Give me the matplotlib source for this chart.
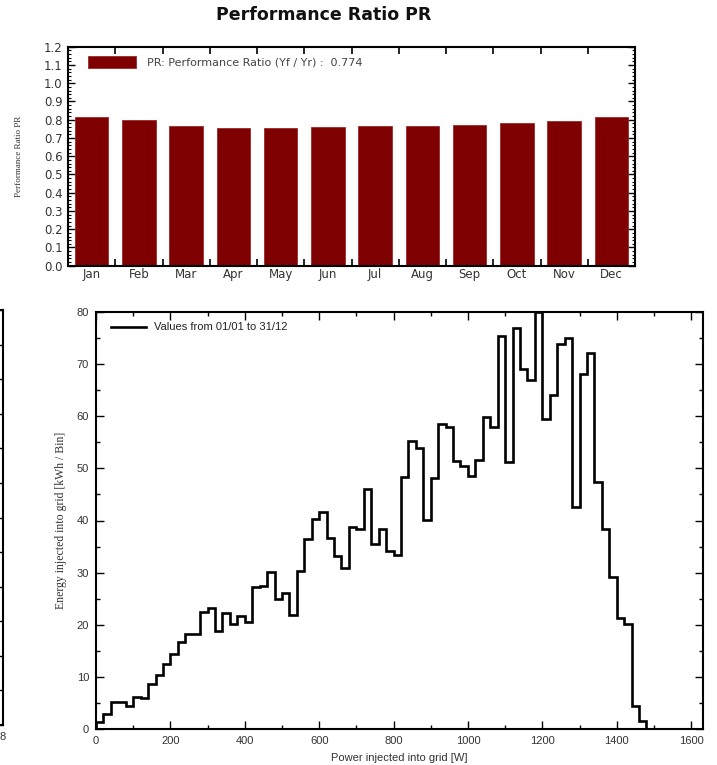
import numpy as np
import matplotlib
matplotlib.use("Agg")
import matplotlib.pyplot as plt
from matplotlib.ticker import MultipleLocator, FixedLocator

# ---------------- data ----------------
months = ["Jan", "Feb", "Mar", "Apr", "May", "Jun",
          "Jul", "Aug", "Sep", "Oct", "Nov", "Dec"]
pr_values = [0.816, 0.797, 0.767, 0.756, 0.755, 0.760,
             0.767, 0.765, 0.769, 0.780, 0.791, 0.813]
pr_label = "PR: Performance Ratio (Yf / Yr) :  0.774"

bin_width = 20
energy_per_bin = [1.4, 2.8, 5.2, 5.1, 4.4, 6.2, 6.0, 8.6, 10.4, 12.4,
                  14.4, 16.7, 18.3, 18.2, 22.4, 23.3, 18.8, 22.2, 20.1, 21.6,
                  20.6, 27.2, 27.5, 30.2, 25.0, 26.1, 21.8, 30.4, 36.4, 40.3,
                  41.6, 36.6, 33.2, 30.9, 38.7, 38.4, 46.1, 35.5, 38.4, 34.1,
                  33.3, 48.3, 55.3, 54.0, 40.1, 48.2, 58.6, 58.0, 51.4, 50.5,
                  48.6, 51.6, 59.9, 57.9, 75.3, 51.2, 77.0, 69.0, 67.0, 80.0,
                  59.5, 64.0, 73.8, 75.0, 42.6, 68.1, 72.1, 47.3, 38.4, 29.2,
                  21.2, 20.1, 4.5, 1.5]
hist_label = "Values from 01/01 to 31/12"

W, H = 717, 765
fig = plt.figure(figsize=(W / 100, H / 100), dpi=100)

def frac_box(x0, y0, x1, y1):
    return [x0 / W, 1 - y1 / H, (x1 - x0) / W, (y1 - y0) / H]

tick_col = "#333333"

# ---------------- top: Performance Ratio ----------------
ax1 = fig.add_axes(frac_box(68, 46.7, 635, 265.7))
x = np.arange(1, len(months) + 1)
ax1.bar(x, pr_values, width=0.71, color="#7f0000", edgecolor="#9a2a2a",
        linewidth=0.6, label=pr_label, zorder=2)
ax1.set_xlim(0.5, len(months) + 0.5)
ax1.set_ylim(0, 1.2)
ax1.yaxis.set_major_locator(MultipleLocator(0.1))
ax1.yaxis.set_minor_locator(MultipleLocator(0.02))
ax1.set_yticklabels([f"{v:.1f}" for v in ax1.get_yticks()])
ax1.set_xticks(x)
ax1.set_xticklabels(months)
ax1.xaxis.set_minor_locator(FixedLocator(np.arange(0.5, len(months) + 1, 1.0)))
ax1.tick_params(axis="x", which="major", length=0, pad=2,
                labelsize=8.5, labelcolor=tick_col)
ax1.tick_params(axis="x", which="minor", direction="in", length=5,
                width=1.2, top=True, bottom=True)
ax1.tick_params(axis="y", which="major", direction="in", length=5,
                width=1, left=True, right=True, labelsize=8.5,
                labelcolor=tick_col, pad=4)
ax1.tick_params(axis="y", which="minor", direction="in", length=2.5,
                width=0.8, left=True, right=True)
for t in ax1.get_xticklabels() + ax1.get_yticklabels():
    t.set_family("DejaVu Sans")
for s in ax1.spines.values():
    s.set_linewidth(1.5)
ax1.set_ylabel("Performance Ratio PR", family="Liberation Serif",
               fontsize=6.5, color=tick_col, labelpad=15)
leg1 = ax1.legend(loc="upper left", bbox_to_anchor=(0.0353, 0.9575),
                  frameon=False, borderaxespad=0, borderpad=0,
                  handlelength=4.3, handleheight=1.35, handletextpad=1.0,
                  prop={"family": "DejaVu Sans", "size": 8})
for t in leg1.get_texts():
    t.set_color("#444444")
fig.text(324 / W, 1 - 15 / H, "Performance Ratio PR", ha="center",
         va="center", fontsize=12.5, fontweight="bold",
         family="DejaVu Sans", color="#111111")

# ---------------- bottom: histogram ----------------
ax2 = fig.add_axes(frac_box(96, 312, 703, 729))
edges = np.arange(0, bin_width * (len(energy_per_bin) + 1), bin_width)
ax2.stairs(energy_per_bin, edges, baseline=0, color="black",
           linewidth=1.9, label=hist_label, zorder=3)
ax2.set_xlim(0, 1632)
ax2.set_ylim(0, 80)
ax2.xaxis.set_major_locator(MultipleLocator(200))
ax2.xaxis.set_minor_locator(MultipleLocator(100))
ax2.yaxis.set_major_locator(MultipleLocator(10))
ax2.yaxis.set_minor_locator(MultipleLocator(5))
ax2.tick_params(which="major", direction="in", length=6, width=1,
                top=True, right=True, labelsize=8, labelcolor=tick_col,
                pad=5)
ax2.tick_params(which="minor", direction="in", length=3, width=1,
                top=True, right=True)
for t in ax2.get_xticklabels() + ax2.get_yticklabels():
    t.set_family("Liberation Sans")
for s in ax2.spines.values():
    s.set_linewidth(1.5)
ax2.set_xlabel("Power injected into grid [W]", family="Liberation Sans",
               fontsize=8, color=tick_col, labelpad=5)
ax2.set_ylabel("Energy injected into grid [kWh / Bin]",
               family="Liberation Serif", fontsize=8.5, color=tick_col,
               labelpad=7)
leg2 = ax2.legend(loc="upper left", bbox_to_anchor=(0.0247, 0.975),
                  frameon=False, borderaxespad=0, borderpad=0,
                  handlelength=3.15, handletextpad=0.72,
                  prop={"family": "Liberation Sans", "size": 8})
for t in leg2.get_texts():
    t.set_color("#222222")

# ---------------- cropped neighbour chart at far left ----------------
ax0 = fig.add_axes([-0.3, 1 - 725 / H, 0.3 + 3 / W, (725 - 310) / H])
ax0.set_xlim(0, 1)
ax0.set_ylim(0, 12)
ax0.yaxis.set_major_locator(MultipleLocator(1))
ax0.set_xticks([])
ax0.tick_params(axis="y", direction="in", length=4, width=1,
                left=False, right=True, labelleft=False)
for s in ax0.spines.values():
    s.set_linewidth(1.5)
fig.text(0 / W, 1 - 737 / H, "8", ha="left", va="center", fontsize=8,
         family="Liberation Sans", color=tick_col)

fig.savefig("out.png", dpi=100)
